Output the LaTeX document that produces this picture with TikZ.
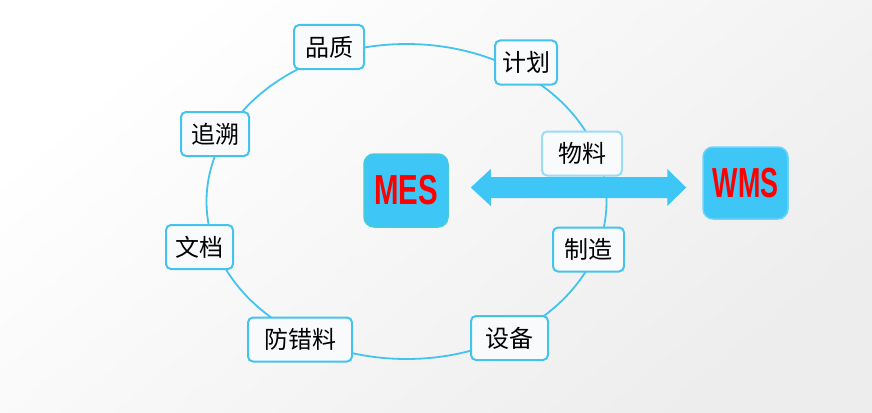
\documentclass[tikz,border=0pt]{standalone}
\usepackage{fontspec}
\usepackage{graphicx}
\usetikzlibrary{calc}
\setmainfont{Liberation Sans}
\newfontfamily\cjk{Noto Sans CJK SC}
\definecolor{ringc}{HTML}{45C3EF}
\definecolor{boxfill}{HTML}{F9FAFB}
\definecolor{lightb}{HTML}{9ADCF5}
\definecolor{sysfill}{HTML}{3DC6F6}
\definecolor{mesline}{HTML}{45CCD8}
\definecolor{wmsline}{HTML}{70D2F8}
\definecolor{arrowc}{HTML}{3DC6F6}
\definecolor{redtxt}{HTML}{FF0000}
\tikzset{
  topic/.style={draw=ringc, line width=2pt, fill=boxfill, rounded corners=5pt,
    inner sep=0pt, minimum height=44pt, font=\cjk\fontsize{24}{24}\selectfont, text=black},
  sysbox/.style={fill=sysfill, line width=1.5pt, rounded corners=10pt, inner sep=0pt,
    font=\bfseries\fontsize{42}{42}\selectfont, text=redtxt}
}
\begin{document}
\begin{tikzpicture}[x=1pt,y=-1pt]
\useasboundingbox (0,0) rectangle (872,412);
\shade[shading=axis, top color=white, bottom color=black!7, shading angle=40] (0,0) rectangle (872,412);
% ring
\draw[ringc, line width=1.8pt] (406.5,201.5) ellipse [x radius=200, y radius=157.5];
% topics
\node[topic, minimum width=70pt] (pz) at (329,47) {品质};
\node[topic, minimum width=62pt] (jh) at (526,62.5) {计划};
\node[topic, minimum width=68pt] (zs) at (215,134) {追溯};
\node[topic, minimum width=80pt, draw=lightb] (wl) at (582,153.5) {物料};
\node[topic, minimum width=67pt] (wd) at (199.5,247) {文档};
\node[topic, minimum width=71pt] (zz) at (588.5,249.5) {制造};
\node[topic, minimum width=104pt] (fcl) at (300,339.5) {防错料};
\node[topic, minimum width=77pt] (sb) at (509.5,338) {设备};
% systems
\node[sysbox, draw=mesline, minimum width=84pt, minimum height=73pt] (mes) at (406,190.5) {\scalebox{0.70}[1]{MES}};
\node[sysbox, draw=wmsline, minimum width=85pt, minimum height=72pt] (wms) at (745.5,183) {\scalebox{0.64}[1]{WMS}};
% double arrow
\coordinate (aL) at ($(mes.east)+(22,-3)$);
\coordinate (aR) at ($(wms.west)+(-16,4.5)$);
\fill[arrowc] (aL) -- ++(20,-18.5) -- ++(0,8) -- ($(aR)+(-19,-10.5)$) -- ++(0,-8) -- (aR)
  -- ++(-19,18.5) -- ++(0,-8) -- ($(aL)+(20,10.5)$) -- ++(0,8) -- cycle;
\end{tikzpicture}
\end{document}
